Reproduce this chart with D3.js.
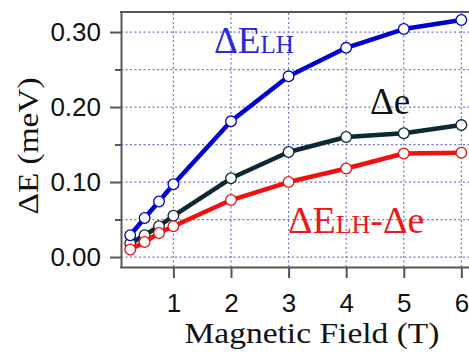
<!DOCTYPE html>
<html>
<head>
<meta charset="utf-8">
<script src="https://cdn.jsdelivr.net/npm/d3@7"></script>
<style>
  body { margin: 0; background: #fff; }
  svg { display: block; }
</style>
</head>
<body>
<div id="chart-area"></div>
<script>
// magnetic field (T)
let fields = [0.25, 0.5, 0.75, 1, 2, 3, 4, 5, 6];
let dELH = [0.029, 0.052, 0.074, 0.097, 0.181, 0.241, 0.279, 0.304, 0.316];
let de = [0.018, 0.029, 0.041, 0.055, 0.105, 0.140, 0.160, 0.165, 0.176];
let diff = [0.010, 0.020, 0.032, 0.041, 0.076, 0.100, 0.118, 0.138, 0.139];
let yTicks = [0, 0.1, 0.2, 0.3];
let yMinor = [0.05, 0.15, 0.25];
let yGrid = [0, 0.05, 0.1, 0.15, 0.2, 0.25, 0.3];
let xTicks = [1, 2, 3, 4, 5, 6];

let W = 469, H = 356;
let svg = d3.select("#chart-area").append("svg")
	.attr("width", W)
	.attr("height", H);

let x = d3.scaleLinear()
	.domain([0.09, 6.15])
	.range([121, 470]);

let y = d3.scaleLinear()
	.domain([-0.0133, 0.3267])
	.range([267, 12]);

let frameColor = "#555";
let gridColor = "#7474d4";

// grid
svg.append("g").selectAll("line").data(yGrid).enter()
	.append("line")
	.attr("x1", x(0.09)).attr("x2", W)
	.attr("y1", d => y(d)).attr("y2", d => y(d))
	.attr("stroke", gridColor)
	.attr("stroke-width", 1.2)
	.attr("stroke-dasharray", "2,2.5");

svg.append("g").selectAll("line").data(xTicks).enter()
	.append("line")
	.attr("x1", d => x(d)).attr("x2", d => x(d))
	.attr("y1", y(-0.0133)).attr("y2", y(0.3267))
	.attr("stroke", gridColor)
	.attr("stroke-width", 1.2)
	.attr("stroke-dasharray", "2,2.5");

// frame top
svg.append("line")
	.attr("x1", 120).attr("x2", W)
	.attr("y1", 12).attr("y2", 12)
	.attr("stroke", frameColor).attr("stroke-width", 2);

// axes
let yAxis = svg.append("g")
	.attr("transform", "translate(121,0)")
	.call(d3.axisLeft(y).tickValues(yTicks).tickSize(11).tickPadding(9)
		.tickFormat(d3.format(".2f")).tickSizeOuter(0));
svg.append("g")
	.attr("transform", "translate(121,0)")
	.call(d3.axisLeft(y).tickValues(yMinor).tickSize(6).tickFormat("").tickSizeOuter(0))
	.call(g => g.select(".domain").remove());

let xAxis = svg.append("g")
	.attr("transform", "translate(0,267)")
	.call(d3.axisBottom(x).tickValues(xTicks).tickSize(11).tickPadding(16)
		.tickFormat(d3.format("d")).tickSizeOuter(0));

[yAxis, xAxis].forEach(g => {
	g.select(".domain").attr("stroke", frameColor).attr("stroke-width", 2);
	g.selectAll(".tick text")
		.attr("fill", "#111")
		.style("font-family", "'Liberation Sans', Arial, sans-serif")
		.style("font-size", "26px");
});
svg.selectAll(".tick line").attr("stroke", frameColor).attr("stroke-width", 2);
xAxis.select(".domain").attr("d", "M120,0.5H" + W);

// series
let series = [
	{vals: de, color: "#0c2830"},
	{vals: diff, color: "#f01010"},
	{vals: dELH, color: "#0000cc"}
];

let line = d3.line()
	.x(d => x(d[0]))
	.y(d => y(d[1]));

series.forEach(s => {
	let pts = fields.map((f, i) => [f, s.vals[i]]);
	svg.append("path")
		.datum(pts)
		.attr("d", line)
		.attr("fill", "none")
		.attr("stroke", s.color)
		.attr("stroke-width", 4.5)
		.attr("stroke-linejoin", "round");
	svg.append("g").selectAll("circle").data(pts).enter()
		.append("circle")
		.attr("cx", d => x(d[0]))
		.attr("cy", d => y(d[1]))
		.attr("r", 5.3)
		.attr("fill", "#fff")
		.attr("stroke", s.color)
		.attr("stroke-width", 1.3);
});

// labels
let serif = "'Liberation Serif', 'Times New Roman', serif";

let lab1 = svg.append("text")
	.attr("x", 214).attr("y", 53)
	.attr("fill", "#2a2ad0")
	.style("font-family", serif).style("font-size", "37px");
lab1.append("tspan").text("ΔE");
lab1.append("tspan").style("font-size", "25px").text("LH");

svg.append("text")
	.attr("x", 370).attr("y", 114)
	.attr("fill", "#111")
	.style("font-family", serif).style("font-size", "37px")
	.text("Δe");

let lab3 = svg.append("text")
	.attr("x", 288).attr("y", 233)
	.attr("fill", "#ee1818")
	.style("font-family", serif).style("font-size", "38px");
lab3.append("tspan").text("ΔE");
lab3.append("tspan").style("font-size", "26px").text("LH");
lab3.append("tspan").text("-Δe");

// axis titles
svg.append("text")
	.attr("x", 312).attr("y", 343)
	.attr("text-anchor", "middle")
	.attr("fill", "#111")
	.attr("textLength", 255)
	.attr("lengthAdjust", "spacingAndGlyphs")
	.style("font-family", serif).style("font-size", "29px")
	.text("Magnetic Field (T)");

svg.append("text")
	.attr("transform", "translate(38,146) rotate(-90)")
	.attr("text-anchor", "middle")
	.attr("fill", "#111")
	.attr("textLength", 137)
	.attr("lengthAdjust", "spacingAndGlyphs")
	.style("font-family", serif).style("font-size", "30px")
	.text("ΔE (meV)");
</script>
</body>
</html>
